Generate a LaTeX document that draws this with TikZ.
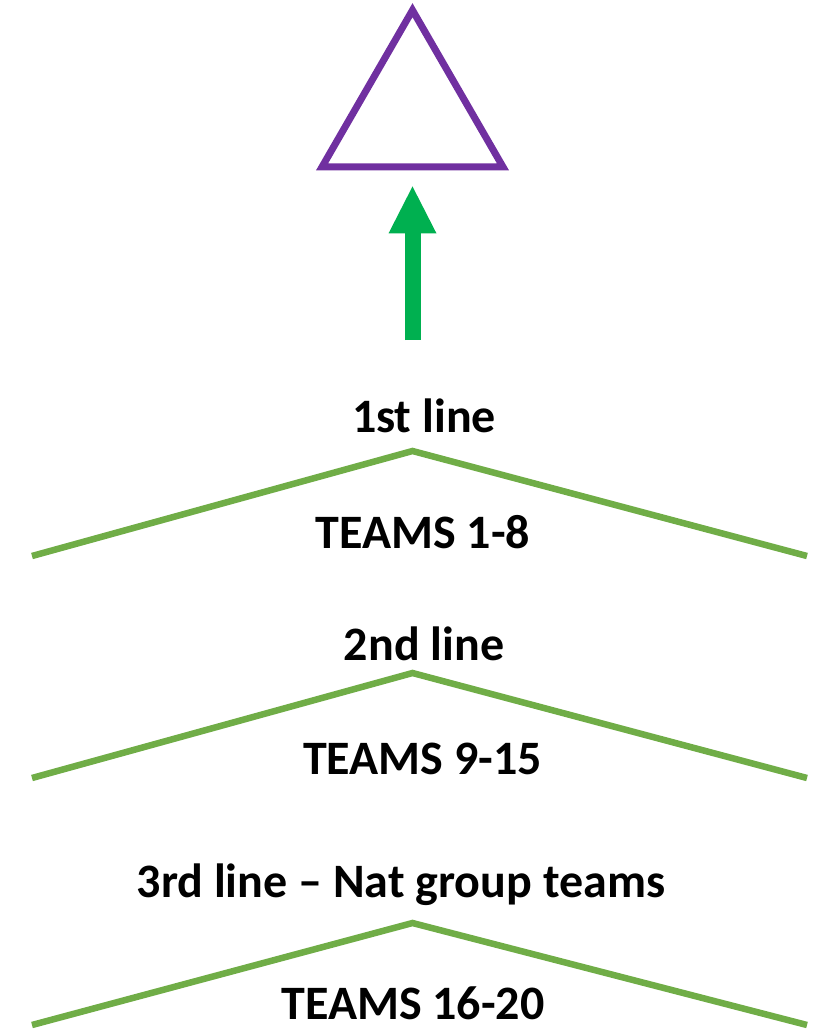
\documentclass[tikz,border=0pt]{standalone}
\usepackage{fontspec}
\setmainfont{Carlito}
\usepackage{tikz}
\usetikzlibrary{shapes.geometric,arrows.meta}
\definecolor{topviolet}{HTML}{7030A0}
\definecolor{upgreen}{HTML}{00B050}
\definecolor{ridgegreen}{HTML}{70AD47}

\begin{document}
\begin{tikzpicture}[
x=1pt,
y=-1pt,
pyramid/.style={
  regular polygon,
  regular polygon sides=3,
  draw=topviolet,
  line width=7pt,
  minimum size=209pt,
  inner sep=0pt
  },
ridge/.style={
  draw=ridgegreen,
  line width=6.5pt
  },
tier/.style={
  anchor=base,
  inner sep=0pt,
  font=\fontsize{48}{58}\selectfont\bfseries
  },
rise/.style={
  draw=upgreen,
  line width=16pt,
  -{Triangle[width=48pt,length=47pt,line width=0pt]},
  shorten >=16pt
  }
]
\useasboundingbox (0,0) rectangle (821,1030);
\node[pyramid] (top) at (412.5,114.7) {};
\coordinate (foot) at (412.5,340);
\draw[rise] (foot) -- (top.south);

\foreach \n/\ya/\yb in {1/451/556,2/673/778,3/923/1025}
{
  \coordinate (west\n) at (32,\yb);
  \coordinate (peak\n) at (412.5,\ya);
  \coordinate (east\n) at (807,\yb);
  \draw[ridge] (west\n) -- (peak\n) -- (east\n);
}

\node[tier] (line1) at (424,432.7) {1st line};
\node[tier] (teams1) at (423,548) {TEAMS 1-8};
\node[tier] (line2) at (424,660) {2nd line};
\node[tier] (teams2) at (422.5,774) {TEAMS 9-15};
\node[tier] (line3) at (401,897) {3rd line – Nat group teams};
\node[tier] (teams3) at (413,1019) {TEAMS 16-20};
\end{tikzpicture}
\end{document}
